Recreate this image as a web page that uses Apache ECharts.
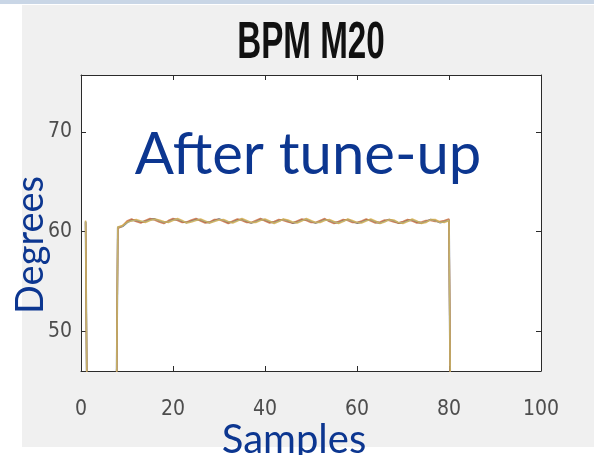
<!DOCTYPE html>
<html>
<head>
<meta charset="utf-8">
<script src="https://cdn.jsdelivr.net/npm/echarts@6/dist/echarts.min.js"></script>
<style>
  html, body { margin: 0; padding: 0; background: #ffffff; }
  #chart1 { width: 594px; height: 455px; }
</style>
</head>
<body>
<div id="chart1"></div>
<script>
// datos
const samples = [
    1, 2, 3, 4, 5, 6, 7, 8, 9, 10, 11, 12, 13, 14, 15, 16, 17, 18, 19, 20,
    21, 22, 23, 24, 25, 26, 27, 28, 29, 30, 31, 32, 33, 34, 35, 36, 37, 38, 39, 40,
    41, 42, 43, 44, 45, 46, 47, 48, 49, 50, 51, 52, 53, 54, 55, 56, 57, 58, 59, 60,
    61, 62, 63, 64, 65, 66, 67, 68, 69, 70, 71, 72, 73, 74, 75, 76, 77, 78, 79, 80,
    81, 82, 83, 84, 85, 86, 87, 88, 89, 90, 91, 92, 93, 94, 95, 96, 97, 98, 99, 100
];

const values1 = [61.0, 0, 0, 0, 0, 0, 0,
    60.4, 60.5, 60.9, 61.15, 61.1, 60.95, 61.0, 61.2, 61.25, 61.05,
    60.9, 61.0, 61.2, 61.2, 61.0, 60.9, 61.05, 61.2, 61.15, 60.95,
    60.9, 61.1, 61.25, 61.1, 60.9, 60.95, 61.15, 61.2, 61.0, 60.85,
    61.0, 61.2, 61.15, 60.95, 60.9, 61.1, 61.2, 61.05, 60.85, 60.95,
    61.15, 61.2, 61.0, 60.85, 61.0, 61.2, 61.1, 60.9, 60.9, 61.1,
    61.2, 61.0, 60.85, 60.95, 61.15, 61.15, 60.95, 60.85, 61.05, 61.2,
    61.05, 60.85, 60.9, 61.1, 61.15, 60.95, 60.85, 61.0, 61.2, 61.1,
    60.9, 61.0, 61.15,
    0, 0, 0, 0, 0, 0, 0, 0, 0, 0, 0, 0, 0, 0, 0, 0, 0, 0, 0, 0];

const values2 = [60.9, 0, 0, 0, 0, 0, 0,
    60.3, 60.55, 61.05, 61.25, 61.0, 60.85, 61.1, 61.3, 61.15, 60.95,
    60.8, 61.1, 61.3, 61.1, 60.9, 60.95, 61.15, 61.3, 61.05, 60.85,
    60.95, 61.2, 61.2, 61.0, 60.8, 61.05, 61.25, 61.1, 60.9, 60.9,
    61.1, 61.3, 61.05, 60.85, 61.0, 61.2, 61.1, 60.95, 60.85, 61.05,
    61.25, 61.1, 60.9, 60.9, 61.1, 61.3, 61.0, 60.8, 61.0, 61.2,
    61.1, 60.9, 60.9, 61.05, 61.25, 61.05, 60.85, 60.95, 61.15, 61.1,
    60.95, 60.85, 61.0, 61.2, 61.05, 60.85, 60.95, 61.1, 61.1, 61.0,
    61.0, 61.1, 61.25,
    0, 0, 0, 0, 0, 0, 0, 0, 0, 0, 0, 0, 0, 0, 0, 0, 0, 0, 0, 0];

const values3 = [61.1, 0, 0, 0, 0, 0, 0,
    60.45, 60.6, 60.95, 61.05, 61.2, 61.05, 60.9, 61.1, 61.25, 61.15,
    61.0, 60.9, 61.1, 61.3, 61.1, 60.85, 60.95, 61.1, 61.25, 61.05,
    60.85, 61.0, 61.15, 61.2, 61.0, 60.85, 61.05, 61.3, 61.1, 60.9,
    60.9, 61.1, 61.25, 61.05, 60.8, 61.0, 61.25, 61.15, 60.95, 60.85,
    61.05, 61.3, 61.1, 60.9, 60.9, 61.1, 61.2, 61.0, 60.8, 61.0,
    61.25, 61.1, 60.9, 60.85, 61.05, 61.25, 61.05, 60.8, 60.95, 61.2,
    61.15, 60.9, 60.8, 61.0, 61.25, 61.05, 60.8, 60.9, 61.2, 61.2,
    60.95, 60.9, 61.1,
    0, 0, 0, 0, 0, 0, 0, 0, 0, 0, 0, 0, 0, 0, 0, 0, 0, 0, 0, 0];

const values4 = [60.95, 0, 0, 0, 0, 0, 0,
    60.4, 60.5, 60.85, 61.1, 61.1, 61.0, 61.0, 61.15, 61.2, 61.05,
    60.9, 61.0, 61.15, 61.2, 61.05, 60.9, 61.0, 61.15, 61.15, 61.0,
    60.9, 61.05, 61.2, 61.1, 60.95, 60.95, 61.1, 61.15, 61.05, 60.9,
    61.0, 61.15, 61.15, 61.0, 60.9, 61.05, 61.15, 61.05, 60.9, 60.95,
    61.1, 61.2, 61.0, 60.9, 61.0, 61.15, 61.1, 60.9, 60.9, 61.05,
    61.15, 61.0, 60.9, 60.95, 61.1, 61.15, 60.95, 60.85, 61.0, 61.15,
    61.05, 60.9, 60.9, 61.05, 61.15, 61.0, 60.9, 61.0, 61.15, 61.05,
    60.9, 61.0, 61.15,
    0, 0, 0, 0, 0, 0, 0, 0, 0, 0, 0, 0, 0, 0, 0, 0, 0, 0, 0, 0];

const yTicks = [50, 60, 70];
const xTicks = [0, 20, 40, 60, 80, 100];

const lineColors = ['#4a5a78', '#c96a3c', '#d8ad45', '#b9c08a'];
const lineWidths = [1.8, 1.5, 1.5, 1.2];
const lineOpacity = [0.85, 0.8, 0.8, 0.6];

const narrowFont = '"DejaVu Sans Condensed", "Liberation Sans Narrow", sans-serif';
const blueText = '#0c3690';

function pares(values) {
    return samples.map((x, i) => [x, values[i]]);
}

function getOptionChart() {
    const lineaEje = { color: '#2b2b2b', width: 1 };
    return {
        backgroundColor: '#ffffff',
        animation: false,
        grid: { left: 81, top: 75, width: 460, height: 296, show: false },
        xAxis: [{
            type: 'value', min: 0, max: 100, interval: 20,
            axisLine: { show: true, onZero: false, lineStyle: lineaEje },
            axisTick: { show: true, inside: true, length: 5, lineStyle: lineaEje, customValues: xTicks },
            axisLabel: { margin: 28, fontFamily: narrowFont, fontSize: 21, color: '#4d4d4d', customValues: xTicks },
            splitLine: { show: false }
        }, {
            type: 'value', min: 0, max: 100, interval: 20, position: 'top',
            axisLine: { show: true, onZero: false, lineStyle: lineaEje },
            axisTick: { show: true, inside: true, length: 5, lineStyle: lineaEje, customValues: xTicks },
            axisLabel: { show: false },
            splitLine: { show: false }
        }],
        yAxis: [{
            type: 'value', min: 46, max: 75.7,
            axisLine: { show: true, onZero: false, lineStyle: lineaEje },
            axisTick: { show: true, inside: true, length: 5, lineStyle: lineaEje, customValues: yTicks },
            axisLabel: { margin: 9, fontFamily: narrowFont, fontSize: 21, color: '#4d4d4d', customValues: yTicks },
            splitLine: { show: false }
        }, {
            type: 'value', min: 46, max: 75.7, position: 'right',
            axisLine: { show: true, onZero: false, lineStyle: lineaEje },
            axisTick: { show: true, inside: true, length: 5, lineStyle: lineaEje, customValues: yTicks },
            axisLabel: { show: false },
            splitLine: { show: false }
        }],
        series: [values1, values2, values3, values4].map((v, i) => ({
            type: 'line',
            data: pares(v),
            showSymbol: false,
            symbol: 'none',
            clip: true,
            z: 2 + i,
            lineStyle: { color: lineColors[i], width: lineWidths[i], opacity: lineOpacity[i] }
        })),
        graphic: [
            // fondo gris de la figura
            { type: 'rect', z: -10, silent: true, shape: { x: 22, y: 5, width: 572, height: 442 }, style: { fill: '#f0f0f0' } },
            { type: 'rect', z: -10, silent: true, shape: { x: 0, y: 0, width: 594, height: 4 }, style: { fill: '#c9d6e6' } },
            { type: 'rect', z: -9, silent: true, shape: { x: 81, y: 75, width: 460, height: 296 }, style: { fill: '#ffffff' } },
            {
                type: 'text', z: 50, silent: true, x: 311, y: 44, scaleX: 0.81, scaleY: 1.25,
                style: { text: 'BPM M20', font: 'bold 41px "Liberation Sans", Arial, sans-serif', fill: '#111111', textAlign: 'center', textVerticalAlign: 'middle' }
            },
            {
                type: 'text', z: 50, silent: true, x: 308, y: 155,
                style: { text: 'After tune-up', font: '58px Lato, "Noto Sans", sans-serif', fill: blueText, textAlign: 'center', textVerticalAlign: 'middle' }
            },
            {
                type: 'text', z: 50, silent: true, x: 31, y: 245, rotation: Math.PI / 2,
                style: { text: 'Degrees', font: '38px Lato, "Noto Sans", sans-serif', fill: blueText, textAlign: 'center', textVerticalAlign: 'middle' }
            },
            {
                type: 'text', z: 50, silent: true, x: 294, y: 440,
                style: { text: 'Samples', font: '40px Lato, "Noto Sans", sans-serif', fill: blueText, textAlign: 'center', textVerticalAlign: 'middle' }
            }
        ]
    };
}

const chart1 = echarts.init(document.getElementById('chart1'));
chart1.setOption(getOptionChart());
</script>
</body>
</html>
